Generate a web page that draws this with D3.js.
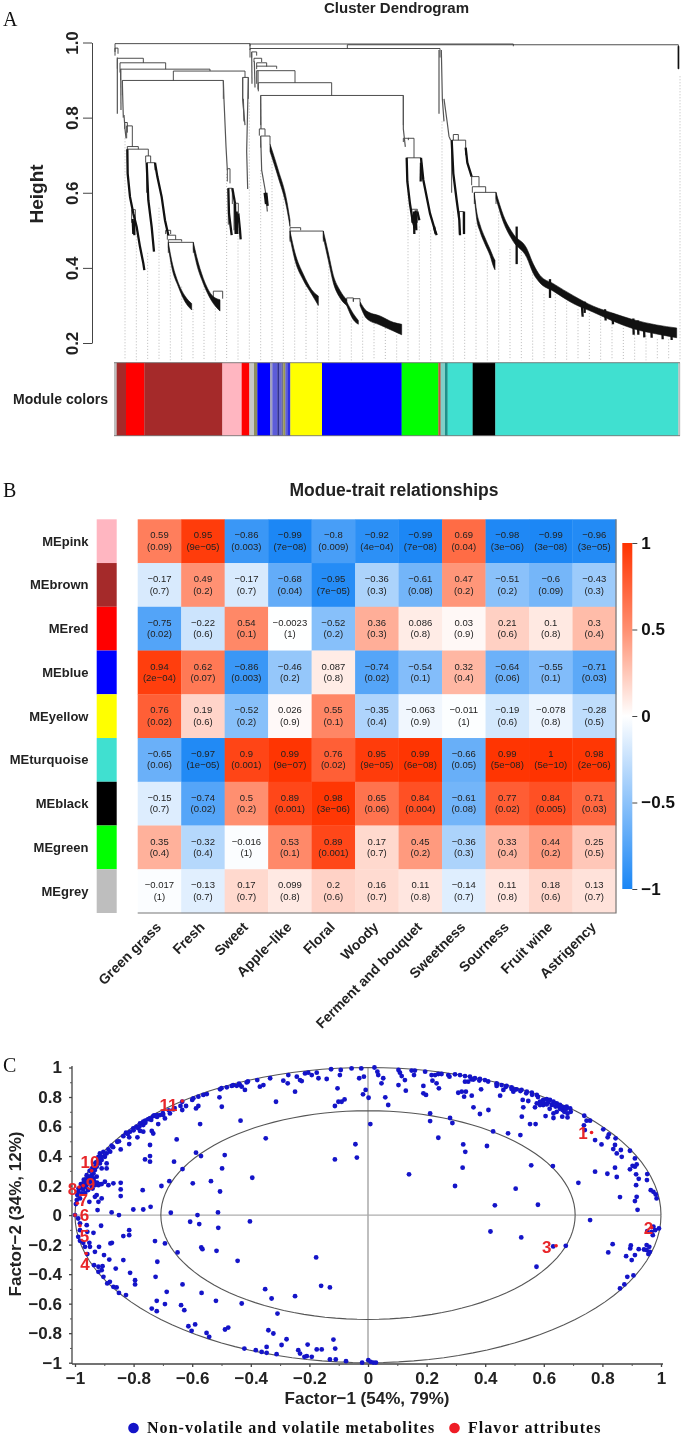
<!DOCTYPE html>
<html><head><meta charset="utf-8">
<script src="https://cdn.jsdelivr.net/npm/d3@7"></script>
<style>
html,body{margin:0;padding:0;background:#fff}
svg{display:block;filter:blur(0.35px)}
text{font-family:"Liberation Sans",Arial,sans-serif}
.serif{font-family:"Liberation Serif","Times New Roman",serif}
</style></head><body>
<svg id="fig" width="682" height="1445"></svg>
<script>
/* ---------- Panel A data: dendrogram, x = leaf order (0..1698), y = height ---------- */
const heightTicks=[0.2,0.4,0.6,0.8,1.0];
const guideBottom=0.154;
// merges: [leftLeaf, rightLeaf, mergeHeight, leftBottom, rightBottom]
const merges=[
[3,408,.997,.975,.98],[408,1198,.996,.99,.99],[700,1693,.994,.984,.93],[408,978,.984,.96,.96],
[3,12,.985,.965,.97],[10,88,.958,.93,.946],[18,155,.946,.92,.929],[20,288,.929,.90,.924],
[178,393,.924,.899,.907],[25,328,.899,.86,.85],[386,403,.907,.85,.85],
[32,40,.787,.77,.76],[38,55,.778,.745,.723],[40,73,.723,.716,.716],[40,103,.716,.68,.698],
[95,110,.698,.68,.68],[98,123,.68,.60,.66],[53,64,.555,.52,.52],
[155,170,.50,.49,.49],[160,185,.487,.475,.475],[163,203,.475,.468,.47],[163,238,.468,.44,.44],
[298,326,.338,.31,.318],
[340,348,.664,.63,.625],[343,355,.612,.515,.57],[360,373,.572,.50,.545],
[413,428,.975,.96,.965],[420,443,.958,.948,.948],[428,458,.946,.936,.936],[428,488,.937,.929,.93],
[428,543,.925,.89,.893],[433,653,.893,.87,.859],[440,868,.859,.78,.78],
[436,453,.77,.752,.752],[440,468,.751,.72,.73],
[528,560,.507,.498,.50],[528,628,.498,.47,.47],[698,718,.32,.31,.31],[718,738,.318,.31,.31],
[868,885,.745,.735,.745],[883,900,.745,.74,.693],[878,921,.693,.66,.66],[893,910,.556,.52,.52],
[1018,1033,.755,.74,.74],[1013,1055,.74,.6,.7],[1036,1048,.55,.49,.5],
[1073,1095,.643,.62,.616],[1075,1115,.616,.60,.601],[1081,1146,.601,.57,.57]
];
// branches: polylines of [leaf, height]
const branches=[
[[10,.96],[10,.81]],[[20,.93],[21,.82]],[[25,.899],[26,.86],[28,.80]],[[30,.807],[33,.77],[36,.745]],
[[40,.716],[41,.651],[48,.589],[58,.545],[68,.509],[78,.456],[88,.412],[91,.394]],[[61,.525],[61,.487]],[[56,.53],[58,.49]],
[[98,.68],[103,.58],[113,.509],[120,.443]],[[123,.68],[130,.643],[143,.589],[153,.527],[163,.487]],
[[328,.899],[330,.847],[336,.723],[340,.66]],[[343,.612],[345,.545],[353,.487]],[[355,.612],[363,.572]],
[[363,.572],[365,.49]],[[373,.545],[378,.50],[380,.476]],[[368,.55],[370,.49]],
[[386,.907],[386,.847],[393,.78]],[[403,.907],[398,.71],[401,.61]],[[388,.85],[390,.79]],
[[413,.975],[414,.89]],[[421,.95],[423,.88]],[[432,.925],[432,.875]],[[440,.859],[441,.77]],
[[440,.751],[443,.66],[455,.60],[460,.55]],[[452,.60],[456,.57]],[[457,.60],[461,.565]],
[[868,.859],[868,.77],[874,.722]],
[[878,.693],[880,.63],[888,.57],[896,.525],[903,.505]],[[905,.553],[907,.50]],[[910,.55],[916,.527]],[[900,.55],[901,.49]],
[[921,.693],[928,.634],[948,.545],[963,.50],[968,.487]],[[921,.68],[920,.63]],[[960,.51],[965,.49]],
[[975,.98],[975,.81]],[[982,.98],[985,.85],[990,.79]],[[990,.85],[1000,.785],[1005,.75],[1010,.74]],
[[1013,.74],[1018,.651],[1028,.58],[1036,.527],[1038,.487]],[[1050,.55],[1050,.49]],
[[1055,.72],[1060,.68],[1073,.643]],
[[1208,.51],[1208,.41]],[[1308,.37],[1308,.32]],[[1403,.31],[1406,.27]],[[1412,.31],[1412,.28]],
[[1473,.29],[1475,.26]],[[1495,.28],[1497,.25]],[[1558,.265],[1559,.222]],[[1572,.26],[1573,.222]],
[[1590,.25],[1591,.215]],[[1612,.25],[1613,.214]],[[1645,.24],[1646,.21]],[[1672,.24],[1673,.208]]
];
// dense leaf bands: [leaf, upper height, lower height]
const bands=[
[[163,.468,.455],[173,.42,.403],[193,.36,.35],[213,.325,.31],[233,.305,.288]],
[[238,.468,.45],[248,.43,.41],[268,.372,.358],[293,.328,.312],[318,.315,.285]],
[[468,.73,.71],[493,.66,.64],[518,.58,.56],[528,.527,.51]],
[[528,.498,.48],[543,.44,.42],[568,.383,.367],[593,.342,.33],[613,.325,.30]],
[[628,.498,.48],[643,.44,.42],[658,.38,.36],[678,.34,.32],[698,.315,.30]],
[[698,.31,.30],[718,.278,.262],[733,.26,.25]],
[[738,.31,.30],[758,.285,.265],[798,.272,.248],[838,.255,.232],[863,.25,.222]],
[[1081,.60,.59],[1088,.55,.53],[1098,.515,.497],[1113,.48,.463],[1128,.45,.433],[1140,.425,.40],[1143,.42,.395]],
[[1146,.601,.585],[1168,.54,.522],[1198,.49,.47],[1238,.452,.428],[1258,.41,.385],[1278,.38,.36],[1318,.358,.338],
 [1378,.326,.305],[1438,.298,.282],[1498,.279,.258],[1558,.262,.238],[1628,.248,.224],[1688,.24,.214]],
[[1692,.99,.93],[1695,.99,.93]]
];
// dotted guide lines: [leaf, top height]
const guides=[[33,.745],[67,.50],[101,.44],[135,.56],[169,.42],[203,.35],[237,.29],[270,.36],[304,.30],[338,.65],
[372,.51],[406,.84],[440,.66],[474,.70],[508,.60],[542,.43],[576,.36],[610,.31],[644,.42],[678,.31],[712,.26],
[746,.27],[780,.25],[814,.24],[848,.22],[882,.62],[916,.51],[950,.50],[984,.79],[1018,.55],[1052,.48],[1086,.52],
[1120,.42],[1154,.55],[1188,.45],[1222,.45],[1256,.39],[1290,.33],[1324,.33],[1358,.31],[1392,.29],[1426,.28],
[1460,.27],[1494,.25],[1528,.24],[1562,.23],[1596,.22],[1630,.21],[1664,.21],[1698,.91]];
const moduleBarColors=["#BEBEBE","#A52A2A","#FF0000","#A52A2A","#FFB6C1","#FF0000","#C8C8C8","#8F8F60","#0000FF",
"#A0A0C0","#5C5CD8","#303090","#6868D0","#707090","#9A9A50","#6060D0","#3030E0","#FFFF00","#0000FF","#00FF00",
"#C0503C","#7FCFC8","#1F8F88","#40E0D0","#000000","#40E0D0","#BEBEBE"];
const moduleBarEnds=[8,36,91,325,383,406,420,430,468,475,490,495,503,508,514,520,529,624,863,973,980,993,1001,1076,1144,1693,1698];

/* ---------- Panel B data ---------- */
const moduleNames=["MEpink","MEbrown","MEred","MEblue","MEyellow","MEturquoise","MEblack","MEgreen","MEgrey"];
const moduleColors=["#FFB6C1","#A52A2A","#FF0000","#0000FF","#FFFF00","#40E0D0","#000000","#00FF00","#BEBEBE"];
const traits=["Green grass","Fresh","Sweet","Apple\u2212like","Floral","Woody","Ferment and bouquet","Sweetness","Sourness","Fruit wine","Astrigency"];
const corr=[
[0.59,0.95,-0.86,-0.99,-0.8,-0.92,-0.99,0.69,-0.98,-0.99,-0.96],
[-0.17,0.49,-0.17,-0.68,-0.95,-0.36,-0.61,0.47,-0.51,-0.6,-0.43],
[-0.75,-0.22,0.54,-0.0023,-0.52,0.36,0.086,0.03,0.21,0.1,0.3],
[0.94,0.62,-0.86,-0.46,0.087,-0.74,-0.54,0.32,-0.64,-0.55,-0.71],
[0.76,0.19,-0.52,0.026,0.55,-0.35,-0.063,-0.011,-0.19,-0.078,-0.28],
[-0.65,-0.97,0.9,0.99,0.76,0.95,0.99,-0.66,0.99,1,0.98],
[-0.15,-0.74,0.5,0.89,0.98,0.65,0.84,-0.61,0.77,0.84,0.71],
[0.35,-0.32,-0.016,0.53,0.89,0.17,0.45,-0.36,0.33,0.44,0.25],
[-0.017,-0.13,0.17,0.099,0.2,0.16,0.11,-0.14,0.11,0.18,0.13]];
const pvals=[
["0.09","9e-05","0.003","7e-08","0.009","4e-04","7e-08","0.04","3e-06","3e-08","3e-05"],
["0.7","0.2","0.7","0.04","7e-05","0.3","0.08","0.2","0.2","0.09","0.3"],
["0.02","0.6","0.1","1","0.2","0.3","0.8","0.9","0.6","0.8","0.4"],
["2e-04","0.07","0.003","0.2","0.8","0.02","0.1","0.4","0.06","0.1","0.03"],
["0.02","0.6","0.2","0.9","0.1","0.4","0.9","1","0.6","0.8","0.5"],
["0.06","1e-05","0.001","9e-07","0.02","9e-05","6e-08","0.05","5e-08","5e-10","2e-06"],
["0.7","0.02","0.2","0.001","3e-06","0.06","0.004","0.08","0.02","0.005","0.03"],
["0.4","0.4","1","0.1","0.001","0.7","0.2","0.3","0.4","0.2","0.5"],
["1","0.7","0.7","0.8","0.6","0.7","0.8","0.7","0.8","0.6","0.7"]];
const colorbarTicks=[-1,-0.5,0,0.5,1];

/* ---------- Panel C data ---------- */
const factorTicks=[-1,-0.8,-0.6,-0.4,-0.2,0,0.2,0.4,0.6,0.8,1];
const minorTicks=[-0.9,-0.7,-0.5,-0.3,-0.1,0.1,0.3,0.5,0.7,0.9];
const metabolites=[
[-.043,.48],[-.038,.39],[.008,.617],[.14,.276],[.24,.524],[.212,.689],[.212,.637],[.28,.658],[.288,.624],[.325,.479],
[.332,.429],[.323,.321],[.297,.197],[.406,.468],[.427,.567],[.478,.554],[.52,.542],[.557,.337],[.631,.332],[.504,.179],
[.433,.066],[.58,.07],[.718,.219],[.418,-.111],[.523,-.151],[.575,-.35],[.632,-.212],[.675,-.208],[.758,-.034],
[.775,.294],[.817,.28],[.849,.258],[.843,.321],[.86,.122],[.911,.095],[.92,.036],[.917,.124],[.915,.203],[.915,.276],
[.924,.246],[.953,.278],[.952,.237],[.917,.343],[.911,.328],[.903,.334],[.894,.31],[.911,.384],[.866,.395],[.849,.418],
[.837,.447],[.863,.441],[.894,.436],[.797,.479],[.775,.508],[.818,.527],[.822,.547],[.803,.581],[.845,.52],[.843,.475],
[.965,.169],[.974,.158],[.982,.14],[.985,.113],[.993,-.09],[.974,-.079],[.98,-.102],[.968,-.113],[.953,-.108],[.972,-.136],
[.835,-.197],[.82,-.253],[.881,-.278],[.895,-.226],[.897,-.206],[.911,-.271],[.9,-.305],[.924,-.231],[.942,-.233],
[.951,-.203],[.96,-.215],[.951,-.237],[.962,-.249],[.957,-.264],[.906,-.409],[.885,-.418],[.875,-.47],[.86,-.497],
[.738,.673],[.746,.64],[.737,.608],[.758,.64],[.74,.576],
[.69,.723],[.678,.734],[.692,.70],[.681,.689],[.664,.712],[.669,.73],[.655,.746],[.644,.757],[.633,.768],[.621,.78],
[.61,.786],[.598,.78],[.587,.768],[.576,.757],[.598,.746],[.587,.746],[.627,.746],[.644,.70],[.633,.689],[.606,.671],
[.633,.658],[.663,.667],[.681,.662],[.528,.78],[.547,.773],[.57,.73],[.53,.73],[.525,.667],[.553,.617],[.572,.617],
[.576,.814],[.559,.83],[.542,.836],[.524,.848],[.507,.852],[.49,.866],[.473,.875],[.456,.881],[.439,.893],[.399,.915],
[.382,.922],[.365,.927],[.348,.938],[.331,.942],[.314,.949],[.297,.954],[.274,.949],[.251,.956],[.24,.956],[.229,.949],
[.217,.949],[.195,.972],[.16,.979],[.149,.979],[.104,.983],[.109,.965],[.022,1.0],[.032,.972],[.035,.949],[.052,.927],
[.046,.893],[.104,.881],[.126,.915],[.115,.942],[.157,.949],[.129,.843],[.189,.875],[.189,.825],[.198,.814],[.22,.911],
[.234,.893],[.242,.859],[.278,.938],[.342,.904],[.331,.904],[.334,.836],[.354,.92],[.308,.829],[.32,.836],[.328,.802],
[.354,.809],[.386,.852],[.36,.73],[.382,.685],[.411,.712],[.451,.809],[.462,.848],[.496,.836],[.439,.875],[.059,.798],
[.069,.746],[-.008,.848],[.002,.795],[-.017,.818],[-.08,.784],[-.09,.768],[-.03,.927],[-.014,.938],[-.023,.994],[-.056,.994],[-.093,.983],
[-.075,-.99],[-.02,-1],[.001,-.983],[.009,-.994],[.018,-.999],[.027,-.999],
[.6,.76],[.615,.765],[.63,.75],[.64,.735],[.655,.72],[.67,.70],[.675,.715],[.66,.735],[.648,.74],[.62,.72],[.61,.75],
[.44,.885],[.41,.905],[.38,.912],[.36,.918],[.5,.85],[.52,.84],[.54,.825],[.56,.815],[.58,.80],[.47,.868],[.49,.855],
[-.126,.988],[-.096,.949],[-.104,.859],[-.113,.739],[-.113,.377],[-.101,.768],[-.215,.96],[-.192,.949],[-.175,.965],
[-.169,.927],[-.204,.965],[-.141,.922],[-.232,.915],[-.243,.938],[-.226,.908],[-.272,.949],[-.274,.893],[-.289,.911],
[-.249,.836],[-.334,.927],[-.357,.881],[-.369,.87],[-.378,.915],[-.414,.899],[-.431,.87],[-.42,.848],[-.437,.881],
[-.448,.876],[-.465,.875],[-.482,.866],[-.505,.852],[-.507,.798],[-.499,.734],[-.314,.768],[-.435,.64],[-.349,.52],
[-.562,.814],[-.579,.802],[-.596,.791],[-.579,.739],[-.587,.723],[-.621,.739],[-.634,.768],[-.634,.712],[-.664,.716],
[-.676,.689],[-.693,.655],[-.716,.617],[-.699,.678],[-.71,.678],[-.721,.678],[-.733,.67],[-.744,.655],[-.767,.633],
[-.778,.622],[-.767,.61],[-.801,.588],[-.812,.565],[-.826,.558],[-.835,.535],[-.815,.527],[-.856,.497],[-.844,.445],
[-.875,.47],[-.886,.445],[-.892,.418],[-.898,.395],[-.79,.60],[-.785,.59],[-.76,.64],[-.75,.65],[-.73,.675],
[-.93,.33],[-.9,.40],[-.88,.43],[-.87,.46],[-.85,.50],[-.82,.55],[-.80,.575],[-.78,.60],[-.76,.625],[-.74,.645],[-.72,.665],
[-.70,.69],[-.68,.71],[-.66,.725],[-.64,.74],[-.6,.78],[-.55,.82],[-.5,.86],[-.46,.88],[-.44,.89],[-.41,.905],
[-.767,.565],[-.778,.57],[-.738,.57],[-.733,.553],[-.787,.527],[-.815,.481],[-.744,.475],[-.653,.513],[-.573,.617],
[-.587,.423],[-.57,.4],[-.489,.407],[-.662,.362],[-.761,.377],[-.744,.4],[-.744,.362],[-.633,.312],[-.678,.23],
[-.705,.197],[-.598,.215],[-.536,.23],[-.395,.253],[-.498,.316],[-.505,.16],[-.769,.169],[-.742,.056],[-.767,.038],
[-.801,.038],[-.673,.016],[-.512,.018],[-.607,-.045],[-.576,-.061],[-.511,-.086],[-.403,-.043],[-.582,0],[-.85,0],
[-.875,.018],[-.923,.034],
[-.898,.226],[-.909,.21],[-.92,.203],[-.932,.203],[-.943,.192],[-.886,.203],[-.869,.215],[-.844,.219],[-.844,.174],
[-.844,.129],[-.909,.113],[-.926,.136],[-.932,.124],[-.92,.09],[-.951,.09],[-.892,.316],[-.909,.316],[-.892,.35],
[-.909,.373],[-.915,.35],[-.926,.328],[-.932,.305],[-.937,.282],[-.943,.271],[-.949,.26],[-.958,.249],[-.966,.226],
[-.972,.215],[-.977,.197],[-.983,.181],[-.989,.158],[-.992,.136],[-.994,.102],[-.997,.075],[-.926,.26],[-.937,.249],
[-.947,.226],[-.954,.215],[-.962,.192],[-.972,.174],[-.977,.147],[-.983,.113],[-.915,.418],[-.903,.429],[-.92,.395],
[-.909,.395],[-.92,.37],[-.93,.355],[-.94,.32],[-.95,.30],[-.96,.27],[-.97,.24],[-.98,.21],[-.988,.18],[-.935,.23],
[-.925,.22],[-.915,.21],[-.955,.17],[-.965,.15],[-.94,.18],[-.96,.21],[-.95,.24],
[-1.0,0],[-.989,-.023],[-.983,-.056],[-.96,-.068],[-.983,-.102],[-.958,-.113],[-.911,-.072],[-.989,-.147],[-.983,-.174],
[-.972,-.188],[-.966,-.215],[-.958,-.264],[-.951,-.188],[-.949,-.215],[-.937,-.12],[-.932,-.249],[-.918,-.215],
[-.901,-.271],[-.883,-.301],[-.835,-.305],[-.861,-.362],[-.935,-.339],[-.92,-.35],[-.906,-.346],[-.92,-.384],[-.909,-.373],
[-.903,-.418],[-.881,-.452],[-.89,-.463],[-.869,-.486],[-.858,-.49],[-.85,-.527],[-.826,-.542],[-.812,-.391],[-.795,-.441],
[-.795,-.47],[-.835,-.142],[-.815,-.102],[-.815,-.136],[-.874,-.188],[-.879,-.192],[-.727,-.176],[-.693,-.192],[-.65,-.253],
[-.719,-.316],[-.725,-.418],[-.687,-.52],[-.633,-.47],[-.568,-.527],[-.721,-.581],[-.693,-.603],[-.738,-.633],[-.721,-.651],
[-.638,-.61],[-.627,-.644],[-.613,-.753],[-.59,-.741],[-.602,-.784],[-.551,-.798],[-.542,-.825],[-.488,-.775],[-.477,-.762],
[-.569,-.219],[-.565,-.231],[-.517,-.242],[-.519,-.581],[-.445,-.31],[-.431,-.599],[-.351,-.502],[-.329,-.565],[-.309,-.667],
[-.249,-.549],[-.177,-.287],[-.16,-.479],[-.13,-.49],[-.34,-.78],[-.323,-.802],[-.422,-.904],[-.383,-.915],[-.363,-.927],
[-.346,-.933],[-.312,-.942],[-.346,-.893],[-.295,-.88],[-.278,-.841],[-.238,-.915],[-.232,-.938],[-.217,-.96],[-.209,-.956],
[-.192,-.96],[-.175,-.91],[-.158,-.91],[-.206,-.877],[-.118,-.843],[-.112,-.904],[-.13,-.978],[-.11,-.978]
];
const flavorPoints=[[.763,.56],[.968,-.084],[.642,-.208],[-.962,-.26],[-.983,-.072],[-1,0],[-.992,.08],[-.986,.19],[-.972,.2],[-.943,.3],[-.634,.773]];
const flavorLabels=["1","2","3","4","5","6","7","8","9","10","11"];
const flavorLabelX=[.734,.957,.61,-.966,-.968,-.968,-.972,-1.009,-.947,-.949,-.681];
const flavorLabelY=[.561,-.086,-.215,-.328,-.136,.005,.108,.181,.215,.366,.75];

/* ---------- drawing ---------- */
const svg=d3.select("#fig");
const MINUS=s=>String(s).replace(/-/g,"\u2212");
const letter=(t,y)=>svg.append("text").attr("class","serif").attr("x",3).attr("y",y).attr("font-size",20).attr("fill","#111").text(t);
letter("A",26);letter("B",497);letter("C",1072);

/* Panel A */
const gA=svg.append("g");
const xLeaf=d3.scaleLinear().domain([0,1698]).range([114,680]);
const yH=d3.scaleLinear().domain([0.2,1]).range([343,42.5]);
gA.append("text").attr("x",396.5).attr("y",13).attr("text-anchor","middle").attr("font-weight","bold").attr("font-size",15).attr("fill","#222").text("Cluster Dendrogram");
gA.append("text").attr("transform",`translate(43,194) rotate(-90)`).attr("text-anchor","middle").attr("font-weight","bold").attr("font-size",19).attr("fill","#222").text("Height");
const axA=gA.append("g").attr("transform","translate(92,0)").call(d3.axisLeft(yH).tickValues(heightTicks).tickFormat(d3.format(".1f")).tickSize(9).tickSizeOuter(0));
axA.selectAll("path,line").attr("stroke","#444").attr("stroke-width",1);
axA.selectAll("text").attr("font-size",17).attr("font-family","Liberation Sans").attr("fill","#222").attr("font-weight","bold").attr("transform","rotate(-90)").attr("x",0).attr("y",-14).attr("dy",0).attr("text-anchor","middle");
gA.append("g").selectAll("line").data(guides).join("line")
 .attr("x1",d=>xLeaf(d[0])).attr("x2",d=>xLeaf(d[0])).attr("y1",d=>yH(d[1])).attr("y2",yH(guideBottom))
 .attr("stroke","#a8a8a8").attr("stroke-width",0.8).attr("stroke-dasharray","1 2");
const branchLine=d3.line().x(d=>xLeaf(d[0])).y(d=>yH(d[1]));
gA.append("g").selectAll("path").data(merges).join("path")
 .attr("d",m=>branchLine([[m[0],m[3]],[m[0],m[2]],[m[1],m[2]],[m[1],m[4]]]))
 .attr("fill","none").attr("stroke","#3a3a3a").attr("stroke-width",0.9);
// branches hanging high in the tree are sparse and grey; the lower ones are dense and black
gA.append("g").selectAll("path").data(branches).join("path").attr("d",branchLine)
 .attr("fill","none")
 .attr("stroke",b=>d3.max(b,p=>p[1])>0.75?"#555":"#111")
 .attr("stroke-width",b=>d3.max(b,p=>p[1])>0.75?1.2:2.3);
const bandArea=d3.area().x(d=>xLeaf(d[0])).y0(d=>yH(d[2])).y1(d=>yH(d[1])).curve(d3.curveMonotoneX);
gA.append("g").selectAll("path").data(bands).join("path").attr("d",bandArea).attr("fill","#111").attr("stroke","#111").attr("stroke-width",0.6);
const barTop=362.7,barBottom=435.7;
const gBar=gA.append("g");
gBar.selectAll("rect").data(moduleBarEnds).join("rect")
 .attr("x",(d,i)=>xLeaf(i?moduleBarEnds[i-1]:0)).attr("width",(d,i)=>xLeaf(d)-xLeaf(i?moduleBarEnds[i-1]:0)+0.2)
 .attr("y",barTop).attr("height",barBottom-barTop).attr("fill",(d,i)=>moduleBarColors[i]);
[barTop,barBottom].forEach(y=>gBar.append("line").attr("x1",xLeaf(0)).attr("x2",xLeaf(1698)).attr("y1",y).attr("y2",y).attr("stroke","#666").attr("stroke-width",0.8));
gA.append("text").attr("x",60.5).attr("y",404).attr("text-anchor","middle").attr("font-weight","bold").attr("font-size",14).attr("fill","#222").text("Module colors");

/* Panel B */
const gB=svg.append("g");
gB.append("text").attr("x",394).attr("y",496).attr("text-anchor","middle").attr("font-weight","bold").attr("font-size",17.5).attr("fill","#222").text("Modue-trait relationships");
const xT=d3.scaleBand().domain(traits).range([137.7,616]);
const yM=d3.scaleBand().domain(moduleNames).range([519.3,913]);
const heat=d3.scaleLinear().domain([-1,-0.5,0,0.5,1]).range(["#1A86F5","#8CC2FA","#FFFFFF","#FF8F70","#FF3300"]);
gB.append("g").selectAll("rect").data(moduleNames).join("rect")
 .attr("x",96.7).attr("width",20).attr("y",d=>yM(d)).attr("height",yM.bandwidth()).attr("fill",(d,i)=>moduleColors[i]);
gB.append("g").selectAll("text").data(moduleNames).join("text")
 .attr("x",88.5).attr("y",d=>yM(d)+yM.bandwidth()/2+4.5).attr("text-anchor","end").attr("font-weight","bold").attr("font-size",13).attr("fill","#222").text(d=>d);
const cells=moduleNames.flatMap((m,r)=>traits.map((t,c)=>({m,t,v:corr[r][c],p:pvals[r][c]})));
const gCell=gB.append("g");
gCell.selectAll("rect").data(cells).join("rect")
 .attr("x",d=>xT(d.t)).attr("y",d=>yM(d.m)).attr("width",xT.bandwidth()+0.3).attr("height",yM.bandwidth()+0.3).attr("fill",d=>heat(d.v));
gCell.selectAll("text.c").data(cells).join("text").attr("class","c")
 .attr("x",d=>xT(d.t)+xT.bandwidth()/2).attr("y",d=>yM(d.m)+yM.bandwidth()/2-2.8).attr("text-anchor","middle").attr("font-size",9.5).attr("fill","#222").text(d=>MINUS(d.v));
gCell.selectAll("text.p").data(cells).join("text").attr("class","p")
 .attr("x",d=>xT(d.t)+xT.bandwidth()/2).attr("y",d=>yM(d.m)+yM.bandwidth()/2+8.6).attr("text-anchor","middle").attr("font-size",9.5).attr("fill","#222").text(d=>"("+MINUS(d.p)+")");
gB.append("path").attr("d",d3.line()([[616,519.3],[616,913],[137.7,913]])).attr("fill","none").attr("stroke","#777").attr("stroke-width",1.2);
gB.append("g").selectAll("text").data(traits).join("text")
 .attr("transform",d=>`translate(${xT(d)+xT.bandwidth()/2+2.5},${928}) rotate(-45)`)
 .attr("text-anchor","end").attr("font-weight","bold").attr("font-size",14).attr("fill","#222").text(d=>d);
const defs=svg.append("defs");
const grad=defs.append("linearGradient").attr("id","cb").attr("x1",0).attr("x2",0).attr("y1",1).attr("y2",0);
grad.selectAll("stop").data(colorbarTicks).join("stop").attr("offset",d=>(d+1)/2).attr("stop-color",d=>heat(d));
const yCB=d3.scaleLinear().domain([-1,1]).range([889,543]);
gB.append("rect").attr("x",622.3).attr("y",543).attr("width",10).attr("height",346).attr("fill","url(#cb)");
const axCB=gB.append("g").attr("transform","translate(632.3,0)").call(d3.axisRight(yCB).tickValues(colorbarTicks).tickFormat(MINUS).tickSize(5).tickSizeOuter(0));
axCB.select(".domain").remove();
axCB.selectAll("line").attr("stroke","#444");
axCB.selectAll("text").attr("font-size",17).attr("font-family","Liberation Sans").attr("font-weight","bold").attr("fill","#111").attr("x",9);

/* Panel C */
const gC=svg.append("g");
const xF=d3.scaleLinear().domain([-1,1]).range([75,661]);
const yF=d3.scaleLinear().domain([-1,1]).range([1362.7,1067.5]);
const circle=r=>d3.range(0,361,3).map(a=>[r*Math.cos(a*Math.PI/180),r*Math.sin(a*Math.PI/180)]);
const fLine=d3.line().x(d=>xF(d[0])).y(d=>yF(d[1]));
gC.append("path").attr("d",fLine([[-1,0],[1,0]])).attr("stroke","#999").attr("stroke-width",1).attr("fill","none");
gC.append("path").attr("d",fLine([[0,-1],[0,1]])).attr("stroke","#aaa").attr("stroke-width",1.5).attr("fill","none");
[1,0.707].forEach(r=>gC.append("path").attr("d",fLine(circle(r))).attr("stroke","#555").attr("stroke-width",1.1).attr("fill","none"));
const axX=gC.append("g").attr("transform","translate(0,1364)").call(d3.axisBottom(xF).tickValues(factorTicks).tickFormat(MINUS).tickSize(3).tickSizeOuter(0));
const axY=gC.append("g").attr("transform","translate(72,0)").call(d3.axisLeft(yF).tickValues(factorTicks).tickFormat(MINUS).tickSize(3).tickSizeOuter(0));
gC.append("g").attr("transform","translate(0,1364)").call(d3.axisBottom(xF).tickValues(minorTicks).tickFormat("").tickSize(2).tickSizeOuter(0)).call(g=>g.select(".domain").remove()).selectAll("line").attr("stroke","#555");
gC.append("g").attr("transform","translate(72,0)").call(d3.axisLeft(yF).tickValues(minorTicks).tickFormat("").tickSize(2).tickSizeOuter(0)).call(g=>g.select(".domain").remove()).selectAll("line").attr("stroke","#555");
axX.select(".domain").attr("d",`M72,0H663`);
axY.select(".domain").attr("d",`M0,1066V1364`);
[axX,axY].forEach(a=>{a.selectAll("path,line").attr("stroke","#444").attr("stroke-width",1.3);
 a.selectAll("text").attr("font-size",17).attr("font-family","Liberation Sans").attr("font-weight","bold").attr("fill","#222");});
axX.selectAll("text").attr("y",20).attr("dy",0);
axY.selectAll("text").attr("x",-10);
gC.append("g").selectAll("circle").data(metabolites).join("circle").attr("cx",d=>xF(d[0])).attr("cy",d=>yF(d[1])).attr("r",2.4).attr("fill","#1414C8");
gC.append("g").selectAll("circle").data(flavorPoints).join("circle").attr("cx",d=>xF(d[0])).attr("cy",d=>yF(d[1])).attr("r",1.8).attr("fill","#EE1C25");
gC.append("g").selectAll("text").data(flavorLabels).join("text")
 .attr("x",(d,i)=>xF(flavorLabelX[i])).attr("y",(d,i)=>yF(flavorLabelY[i])+6.5).attr("text-anchor","middle")
 .attr("font-size",17).attr("font-weight","bold").attr("fill","#E8262A").text(d=>d);
gC.append("text").attr("x",367).attr("y",1404).attr("text-anchor","middle").attr("font-weight","bold").attr("font-size",17).attr("fill","#222").text("Factor\u22121 (54%, 79%)");
gC.append("text").attr("transform","translate(21,1214) rotate(-90)").attr("text-anchor","middle").attr("font-weight","bold").attr("font-size",17).attr("fill","#222").text("Factor\u22122 (34%, 12%)");
gC.append("circle").attr("cx",133.5).attr("cy",1428).attr("r",5.3).attr("fill","#1414C8");
gC.append("circle").attr("cx",454.5).attr("cy",1428).attr("r",5.3).attr("fill","#EE1C25");
gC.append("text").attr("class","serif").attr("x",147).attr("y",1433).attr("font-weight","bold").attr("font-size",16).attr("letter-spacing",1.05).attr("fill","#111").text("Non-volatile and volatile metabolites");
gC.append("text").attr("class","serif").attr("x",468).attr("y",1433).attr("font-weight","bold").attr("font-size",16).attr("letter-spacing",1.05).attr("fill","#111").text("Flavor attributes");
</script>
</body></html>
